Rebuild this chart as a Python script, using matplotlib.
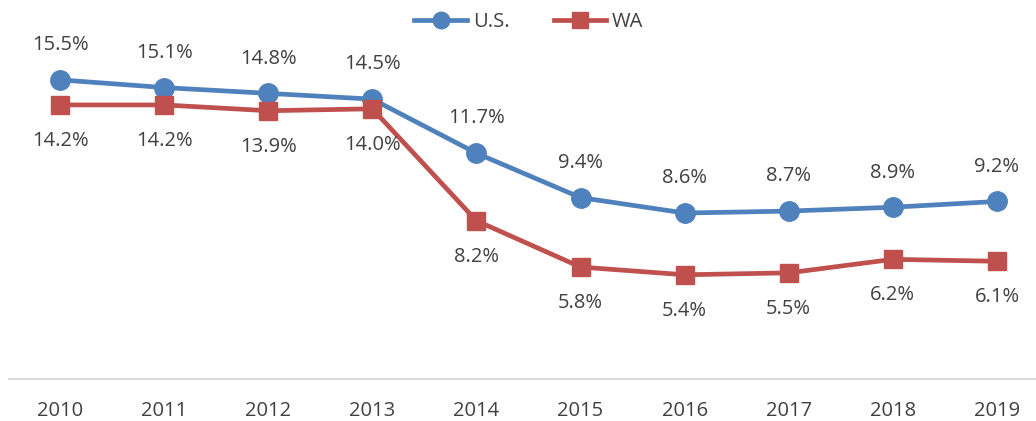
import numpy as np
from matplotlib import pyplot as plt

# data
years = ["2010", "2011", "2012", "2013", "2014", "2015", "2016", "2017", "2018", "2019"]
us = [15.5, 15.1, 14.8, 14.5, 11.7, 9.4, 8.6, 8.7, 8.9, 9.2]
wa = [14.2, 14.2, 13.9, 14.0, 8.2, 5.8, 5.4, 5.5, 6.2, 6.1]

blue = "#4F81BD"
red = "#C0504D"
txt = "#404040"

plt.rcParams['font.family'] = ['Open Sans', 'DejaVu Sans']

W, H = 1036, 421
fig = plt.figure(figsize=(W / 100, H / 100), dpi=100)
ax = fig.add_axes([9 / W, 1 - 379 / H, 1 - 9 / W, (379 - 31) / H])

x = np.arange(len(years))
ax.plot(x, us, color=blue, lw=3.4, marker="o", ms=14, label="U.S.")
ax.plot(x, wa, color=red, lw=3.4, marker="s", ms=13, label="WA")

for xi, v in zip(x, us):
    ax.annotate(f"{v:.1f}%", (xi, v), xytext=(0, 25), textcoords="offset points",
                ha="center", va="center", fontsize=14.5, color=txt)
for xi, v in zip(x, wa):
    ax.annotate(f"{v:.1f}%", (xi, v), xytext=(0, -26), textcoords="offset points",
                ha="center", va="center", fontsize=14.5, color=txt)

ax.set_xlim(-0.49, 9.375)
ax.set_ylim(0, 348 / 19.3)
ax.set_xticks(x)
ax.set_xticklabels(years, fontsize=14.5, color=txt)
ax.tick_params(axis="x", length=0, pad=16)
ax.set_yticks([])
for s in ["top", "right", "left"]:
    ax.spines[s].set_visible(False)
ax.spines["bottom"].set_color("#D9D9D9")
ax.spines["bottom"].set_linewidth(1.5)

fig.legend(loc="center", bbox_to_anchor=(529 / W, 1 - 22 / H), ncol=2, frameon=False,
           fontsize=14.5, labelcolor=txt, handlelength=2.6, handletextpad=0.3,
           columnspacing=2.2, markerscale=0.85)

fig.savefig("out.png", dpi=100)
